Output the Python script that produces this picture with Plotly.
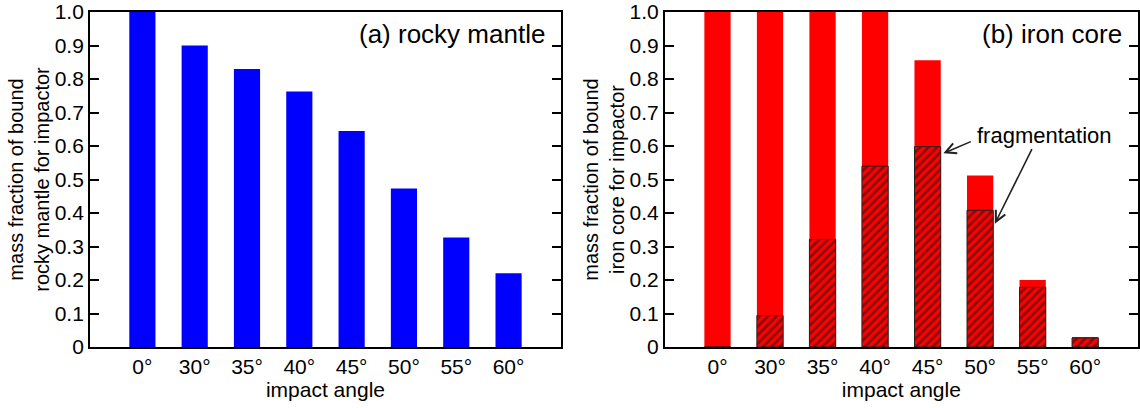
import plotly.graph_objects as go
from plotly.subplots import make_subplots

# ---- data ----
angles = ["0°", "30°", "35°", "40°", "45°", "50°", "55°", "60°"]
mantle_bound = [1.0, 0.90, 0.83, 0.763, 0.645, 0.473, 0.327, 0.22]
core_bound = [1.0, 1.0, 1.0, 1.0, 0.856, 0.512, 0.200, 0.030]
core_fragment = [0.0, 0.094, 0.321, 0.540, 0.598, 0.408, 0.178, 0.027]
ytick_vals = [0, 0.1, 0.2, 0.3, 0.4, 0.5, 0.6, 0.7, 0.8, 0.9, 1.0]
ytick_text = ["0", "0.1", "0.2", "0.3", "0.4", "0.5", "0.6", "0.7", "0.8", "0.9", "1.0"]

xpos = list(range(len(angles)))
FONT = "Arial, Liberation Sans, sans-serif"
BAR_W = 0.5

fig = make_subplots(rows=1, cols=2)

fig.add_trace(go.Bar(x=xpos, y=mantle_bound, width=BAR_W,
                     marker=dict(color="#0000ff", line=dict(width=0)),
                     showlegend=False), row=1, col=1)

fig.add_trace(go.Bar(x=xpos, y=core_bound, width=BAR_W,
                     marker=dict(color="#ff0000", line=dict(width=0)),
                     showlegend=False), row=1, col=2)
fig.add_trace(go.Bar(x=xpos, y=core_fragment, width=BAR_W,
                     marker=dict(color="#ff0000",
                                 line=dict(color="#222222", width=1),
                                 pattern=dict(shape="/", fgcolor="#111111",
                                              bgcolor="#ff0000", size=6,
                                              solidity=0.45)),
                     showlegend=False), row=1, col=2)

axis_common = dict(showline=True, linecolor="black", linewidth=2,
                   showgrid=False, zeroline=False)

for i, (dom, title) in enumerate([
        ([0.079, 0.492], "mass fraction of bound<br>rocky mantle for impactor"),
        ([0.5833, 0.998], "mass fraction of bound<br>iron core for impactor")]):
    xa = "xaxis" if i == 0 else "xaxis2"
    ya = "yaxis" if i == 0 else "yaxis2"
    fig.layout[xa].update(domain=dom, range=[-1, 8], tickvals=xpos, ticktext=angles,
                          ticks="", mirror=True,
                          tickfont=dict(size=21, family=FONT, color="black"),
                          title=dict(text="impact angle", standoff=2,
                                     font=dict(size=21, family=FONT, color="black")),
                          **axis_common)
    fig.layout[ya].update(range=[0, 1], tickvals=ytick_vals, ticktext=ytick_text,
                          ticks="inside", ticklen=9, tickwidth=2, tickcolor="black",
                          mirror="ticks", ticklabeloverflow="allow",
                          tickfont=dict(size=21, family=FONT, color="black"),
                          title=dict(text=title, standoff=0,
                                     font=dict(size=20, family=FONT, color="black")),
                          **axis_common)

fig.update_layout(
    width=1140, height=408,
    margin=dict(l=0, r=0, t=8, b=61),
    barmode="overlay",
    plot_bgcolor="white", paper_bgcolor="white",
    font=dict(family=FONT, color="black"),
)

fig.add_annotation(text="(a) rocky mantle", x=0.97, y=0.985, xref="x domain", yref="y domain",
                   xanchor="right", yanchor="top", showarrow=False,
                   font=dict(size=26, family=FONT, color="black"))
fig.add_annotation(text="(b) iron core", x=0.97, y=0.985, xref="x2 domain", yref="y2 domain",
                   xanchor="right", yanchor="top", showarrow=False,
                   font=dict(size=26, family=FONT, color="black"))

# fragmentation label with two arrows
fig.add_annotation(text="fragmentation", x=6.23, y=0.63, xref="x2", yref="y2",
                   showarrow=False, font=dict(size=22, family=FONT, color="black"))
fig.add_annotation(text="", x=4 + BAR_W / 2 + 0.05, y=core_fragment[4] - 0.02,
                   ax=4.85, ay=0.615, xref="x2", yref="y2", axref="x2", ayref="y2",
                   showarrow=True, arrowhead=5, arrowsize=1.3, arrowwidth=1.6,
                   arrowcolor="#222222")
fig.add_annotation(text="", x=5 + BAR_W / 2 + 0.03, y=core_fragment[5] - 0.04,
                   ax=6.0, ay=0.595, xref="x2", yref="y2", axref="x2", ayref="y2",
                   showarrow=True, arrowhead=5, arrowsize=1.3, arrowwidth=1.6,
                   arrowcolor="#222222")

fig.write_html("out.html", config={"displayModeBar": False},
               post_script="document.body.style.margin='0';")
